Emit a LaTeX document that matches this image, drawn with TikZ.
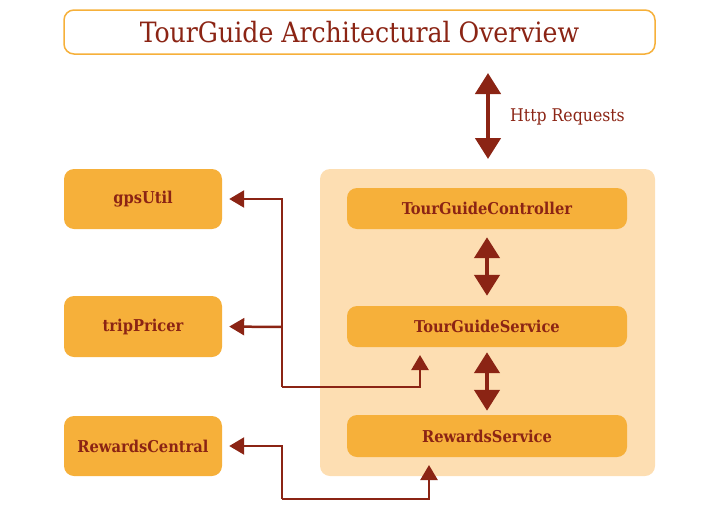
\documentclass[tikz,border=0pt]{standalone}
\usepackage{fontspec}
\setmainfont{DejaVu Serif Condensed}
\usetikzlibrary{arrows.meta}
\definecolor{dred}{HTML}{8B2414}
\definecolor{orng}{HTML}{F6B03A}
\definecolor{peach}{HTML}{FDDEB2}
\tikzset{
  box/.style={fill=orng, rounded corners=10pt, text=dred, font=\fontsize{16.3}{19}\selectfont\bfseries, inner sep=0pt},
  bigarr/.style={draw=dred, line width=4.5pt, {Triangle[width=25pt,length=21pt]}-{Triangle[width=25pt,length=21pt]}},
  thinarr/.style={draw=dred, line width=2.5pt, -{Triangle[width=17pt,length=15pt]}},
  thinline/.style={draw=dred, line width=2.5pt}
}
\begin{document}
\begin{tikzpicture}[x=1pt,y=-1pt]
\useasboundingbox (0,0) rectangle (726,517);
\node[draw=orng, line width=1.5pt, fill=white, rounded corners=10pt, minimum width=591pt, minimum height=44pt, text=dred, font=\fontsize{28}{32}\selectfont] (title) at (359.5,32) {TourGuide Architectural Overview};
\node[fill=peach, rounded corners=10pt, minimum width=335pt, minimum height=307pt, inner sep=0pt] (cont) at (487.5,322.5) {};
\node[box, minimum width=280pt, minimum height=41pt] (ctrl) at (487,208.5) {TourGuideController};
\node[box, minimum width=280pt, minimum height=41pt] (svc) at (487,326.5) {TourGuideService};
\node[box, minimum width=280pt, minimum height=42pt] (rs) at (487,436) {RewardsService};
\node[box, minimum width=158pt, minimum height=60pt] (gps) at (143,199) {gpsUtil};
\node[box, minimum width=158pt, minimum height=61pt] (trip) at (143,326.5) {tripPricer};
\node[box, minimum width=158pt, minimum height=60pt] (rc) at (143,446) {RewardsCentral};
\coordinate (httpTop) at (488,73);
\coordinate (httpBot) at (488,159);
\draw[bigarr] (httpTop) -- (httpBot);
\node[anchor=west, text=dred, font=\fontsize{17.5}{20}\selectfont, inner sep=0pt] (http) at (510,117) {Http Requests};
\draw[bigarr, shorten <=8pt, shorten >=10pt] (ctrl.south) -- (svc.north);
\draw[bigarr, shorten <=5pt, shorten >=4pt] (svc.south) -- (rs.north);
\coordinate (j) at (282,387);
\coordinate (b) at (282,327);
\coordinate (svcIn) at (420,347);
\coordinate (k) at (282,499);
\coordinate (rsIn) at (429,457);
\draw[thinarr, shorten >=7pt] (j) |- (gps.east);
\draw[thinarr, shorten >=8pt] (j) -| (svcIn);
\draw[thinarr, shorten >=7pt] (b) -- (trip.east);
\draw[thinarr, shorten >=7pt] (k) |- (rc.east);
\draw[thinarr, shorten >=8pt] (k) -| (rsIn);
\end{tikzpicture}
\end{document}
